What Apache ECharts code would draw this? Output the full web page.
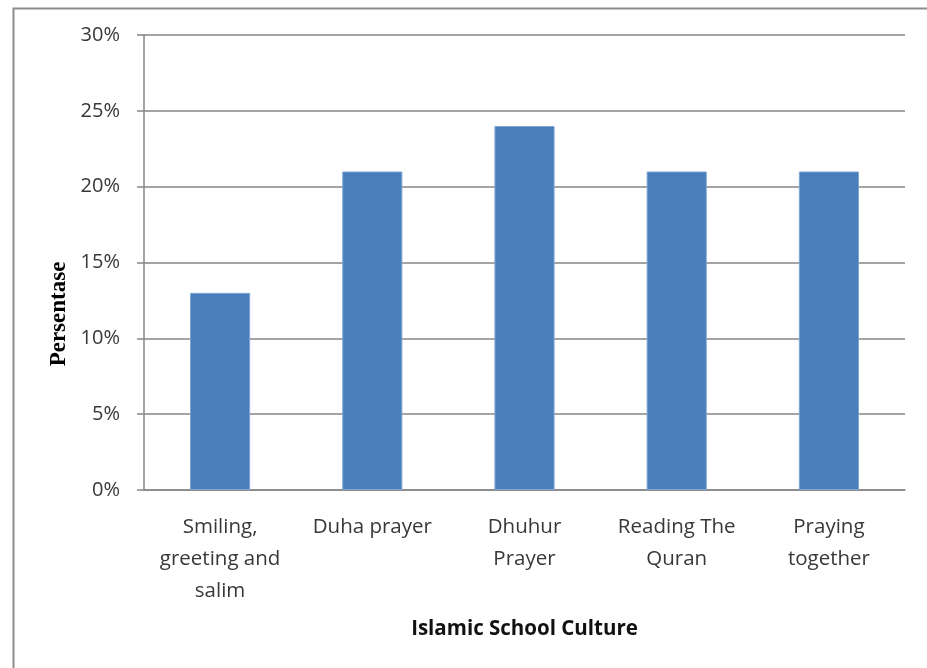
<!DOCTYPE html>
<html>
<head>
<meta charset="utf-8">
<script src="https://cdn.jsdelivr.net/npm/echarts@6/dist/echarts.min.js"></script>
<style>html,body{margin:0;padding:0;background:#fff;}#c{width:927px;height:668px;}</style>
</head>
<body>
<div id="c"></div>
<script>
const categories = ["Smiling,\ngreeting and\nsalim", "Duha prayer", "Dhuhur\nPrayer", "Reading The\nQuran", "Praying\ntogether"];
const values = [13, 21, 24, 21, 21];
const yTicks = [0, 5, 10, 15, 20, 25, 30];
const yTitle = 'Persentase';
const xTitle = 'Islamic School Culture';

const chart = echarts.init(document.getElementById('c'), null, {renderer: 'canvas'});
chart.setOption({
  animation: false,
  backgroundColor: '#fff',
  graphic: [{
    type: 'rect', left: 11, top: 6,
    shape: {width: 940, height: 700},
    style: {fill: 'none', stroke: '#8c8c8c', lineWidth: 2},
    silent: true
  }, {
    type: 'text', x: 59, y: 314, rotation: Math.PI / 2,
    style: {text: yTitle, font: 'bold 23px "Liberation Serif"', fill: '#000', align: 'center', verticalAlign: 'middle'},
    silent: true
  }],
  grid: {left: 144, right: 22, top: 35, bottom: 178, containLabel: false},
  xAxis: {
    type: 'category',
    data: categories,
    name: xTitle,
    nameLocation: 'middle',
    nameGap: 129,
    nameTextStyle: {fontFamily: 'Open Sans', fontWeight: 'bold', fontSize: 20.5, color: '#111'},
    axisLine: {show: true, lineStyle: {color: '#868686', width: 1.5}},
    axisTick: {show: false},
    axisLabel: {interval: 0, margin: 21, fontFamily: 'Open Sans', fontSize: 20.5, lineHeight: 32, color: '#383838', align: 'center'}
  },
  yAxis: {
    type: 'value',
    min: yTicks[0], max: yTicks[yTicks.length - 1], interval: 5,
    axisLine: {show: true, lineStyle: {color: '#868686', width: 1.5}},
    axisTick: {show: true, inside: false, length: 7, lineStyle: {color: '#868686', width: 1.5}},
    splitLine: {show: true, lineStyle: {color: '#868686', width: 1.5}},
    axisLabel: {margin: 24, fontFamily: 'Open Sans', fontSize: 20, color: '#383838', formatter: v => v + '%'}
  },
  series: [{
    type: 'bar',
    data: values,
    barWidth: '39.5%',
    itemStyle: {color: '#4a7ebb', borderColor: '#7fa6d6', borderWidth: 1}
  }]
});
</script>
</body>
</html>
